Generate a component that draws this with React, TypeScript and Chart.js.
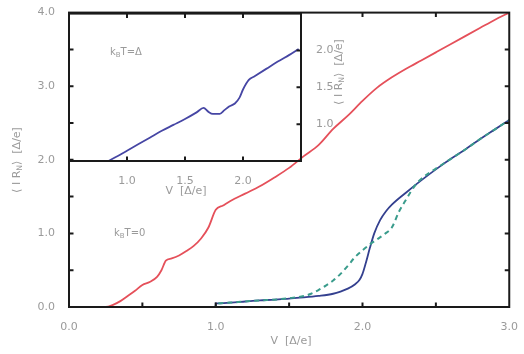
import React, { useEffect, useRef } from 'react';
import { Chart, registerables } from 'chart.js';
Chart.register(...registerables);

// ---------- data ----------
const redV = [0, 0.2, 0.25, 0.3, 0.35, 0.4, 0.45, 0.5, 0.55, 0.6, 0.63, 0.66, 0.7, 0.75, 0.8, 0.85, 0.9, 0.95, 1.0, 1.05, 1.1, 1.2, 1.3, 1.4, 1.5, 1.6, 1.7, 1.8, 1.9, 2.0, 2.1, 2.2, 2.3, 2.4, 2.5, 2.6, 2.7, 2.8, 2.9, 3.0];
const redI = [0, 0, 0, 0.03, 0.08, 0.15, 0.22, 0.3, 0.34, 0.41, 0.5, 0.63, 0.66, 0.7, 0.76, 0.83, 0.93, 1.08, 1.32, 1.38, 1.44, 1.54, 1.64, 1.76, 1.89, 2.05, 2.2, 2.42, 2.6, 2.8, 2.98, 3.12, 3.24, 3.35, 3.46, 3.57, 3.68, 3.79, 3.9, 4.0];

const blueV = [1.0, 1.0, 1.1, 1.2, 1.3, 1.4, 1.5, 1.6, 1.7, 1.8, 1.85, 1.9, 1.95, 1.98, 2.0, 2.02, 2.05, 2.08, 2.12, 2.16, 2.2, 2.3, 2.4, 2.5, 2.6, 2.7, 2.8, 2.9, 3.0];
const blueI = [0, 0.05, 0.06, 0.075, 0.09, 0.1, 0.115, 0.13, 0.15, 0.18, 0.21, 0.25, 0.31, 0.37, 0.45, 0.58, 0.8, 1.0, 1.18, 1.3, 1.39, 1.56, 1.72, 1.87, 2.01, 2.14, 2.28, 2.41, 2.54];

const dashV = [0, 1.0, 1.0, 1.1, 1.2, 1.3, 1.4, 1.5, 1.6, 1.65, 1.7, 1.75, 1.8, 1.85, 1.9, 1.95, 2.0, 2.05, 2.1, 2.15, 2.2, 2.25, 2.3, 2.35, 2.4, 2.5, 2.6, 2.7, 2.8, 2.9, 3.0];
const dashI = [0, 0, 0.05, 0.06, 0.075, 0.09, 0.1, 0.12, 0.15, 0.18, 0.23, 0.29, 0.36, 0.45, 0.56, 0.68, 0.77, 0.85, 0.92, 0.99, 1.08, 1.3, 1.47, 1.63, 1.74, 1.88, 2.01, 2.14, 2.28, 2.41, 2.54];

const insetV = [0.84, 0.9, 1.0, 1.1, 1.2, 1.3, 1.4, 1.5, 1.6, 1.66, 1.7, 1.74, 1.8, 1.84, 1.88, 1.93, 1.97, 2.0, 2.05, 2.1, 2.2, 2.3, 2.4, 2.48];
const insetI = [0.5, 0.55, 0.64, 0.73, 0.82, 0.91, 0.99, 1.07, 1.16, 1.22, 1.17, 1.14, 1.14, 1.19, 1.24, 1.28, 1.36, 1.47, 1.6, 1.65, 1.75, 1.85, 1.94, 2.02];

const mainXLabels = [0, 1, 2, 3];
const mainYLabels = [0, 1, 2, 3, 4];
const insetXLabels = [1.0, 1.5, 2.0];
const insetYLabels = [1.0, 1.5, 2.0];

// ---------- styling ----------
const FONT = '"DejaVu Sans", "Liberation Sans", sans-serif';
const GRAY = '#9a9a9a';
const AXIS = '#1a1a1a';

type Part = { t: string; sub?: boolean };

function drawRich(ctx: CanvasRenderingContext2D, parts: Part[], x: number, y: number, rot: number, size: number, align: 'left' | 'center') {
  ctx.save();
  ctx.translate(x, y);
  ctx.rotate(rot);
  ctx.fillStyle = GRAY;
  ctx.textBaseline = 'middle';
  ctx.textAlign = 'left';
  let total = 0;
  const widths = parts.map((p) => {
    ctx.font = `${p.sub ? size * 0.7 : size}px ${FONT}`;
    const w = ctx.measureText(p.t).width;
    total += w;
    return w;
  });
  let cx = align === 'center' ? -total / 2 : 0;
  parts.forEach((p, i) => {
    ctx.font = `${p.sub ? size * 0.7 : size}px ${FONT}`;
    ctx.fillText(p.t, cx, p.sub ? size * 0.3 : 0);
    cx += widths[i];
  });
  ctx.restore();
}

const yTitle: Part[] = [{ t: '⟨ I R' }, { t: 'N', sub: true }, { t: '⟩  [Δ/e]' }];
const xTitle: Part[] = [{ t: 'V  [Δ/e]' }];

function pts(xs: number[], ys: number[]) {
  return xs.map((x, i) => ({ x, y: ys[i] }));
}

type TickSpec = { bottom?: (v: number) => boolean; top?: (v: number) => boolean; left?: (v: number) => boolean; right?: (v: number) => boolean };

function framePlugin(spec: TickSpec, texts: (ctx: CanvasRenderingContext2D) => void, yId: string) {
  return {
    id: 'frame',
    afterDatasetsDraw(chart: any) {
      const ctx: CanvasRenderingContext2D = chart.ctx;
      const a = chart.chartArea;
      const xs = chart.scales.x;
      const ys = chart.scales[yId];
      const L = 4.5;
      ctx.save();
      ctx.strokeStyle = AXIS;
      ctx.lineWidth = 2;
      ctx.beginPath();
      xs.ticks.forEach((t: any) => {
        const v = t.value;
        if (v <= xs.min || v >= xs.max) return;
        const px = xs.getPixelForValue(v);
        if (spec.bottom && spec.bottom(v)) { ctx.moveTo(px, a.bottom); ctx.lineTo(px, a.bottom - L); }
        if (spec.top && spec.top(v)) { ctx.moveTo(px, a.top); ctx.lineTo(px, a.top + L); }
      });
      ys.ticks.forEach((t: any) => {
        const v = t.value;
        if (v <= ys.min || v >= ys.max) return;
        const py = ys.getPixelForValue(v);
        if (spec.left && spec.left(v)) { ctx.moveTo(a.left, py); ctx.lineTo(a.left + L, py); }
        if (spec.right && spec.right(v)) { ctx.moveTo(a.right, py); ctx.lineTo(a.right - L, py); }
      });
      ctx.stroke();
      ctx.strokeRect(a.left, a.top, a.right - a.left, a.bottom - a.top);
      ctx.restore();
      texts(ctx);
    },
  };
}

export default function App() {
  const mainRef = useRef<HTMLCanvasElement>(null);
  const insetRef = useRef<HTMLCanvasElement>(null);

  useEffect(() => {
    const tickFont = { family: FONT, size: 11 };
    const main = new Chart(mainRef.current!, {
      type: 'scatter',
      data: {
        datasets: [
          {
            data: pts(redV, redI), showLine: true, borderColor: '#e5505a', borderWidth: 1.8,
            pointRadius: 0, cubicInterpolationMode: 'monotone',
          },
          {
            data: pts(dashV, dashI), showLine: true, borderColor: '#3a9c8c', borderWidth: 2,
            borderDash: [5, 4], pointRadius: 0, cubicInterpolationMode: 'monotone',
          },
          {
            data: pts(blueV, blueI), showLine: true, borderColor: '#34408f', borderWidth: 1.8,
            pointRadius: 0, cubicInterpolationMode: 'monotone',
          },
        ],
      },
      options: {
        animation: false,
        responsive: false,
        layout: { padding: { left: 0, top: 12, right: 11, bottom: 0 } },
        plugins: { legend: { display: false }, tooltip: { enabled: false } },
        scales: {
          x: {
            type: 'linear', min: 0, max: 3,
            grid: { display: false }, border: { display: false },
            afterFit: (s: any) => { s.height = 47; },
            ticks: {
              stepSize: 0.5, autoSkip: false, maxRotation: 0, padding: 6, color: GRAY, font: tickFont,
              callback: (v: any) => (mainXLabels.includes(Number(v)) ? Number(v).toFixed(1) : ''),
            },
          },
          y: {
            type: 'linear', min: 0, max: 4,
            grid: { display: false }, border: { display: false },
            afterFit: (s: any) => { s.width = 69; },
            ticks: {
              stepSize: 0.5, autoSkip: false, padding: 6, color: GRAY, font: tickFont,
              callback: (v: any) => (mainYLabels.includes(Number(v)) ? Number(v).toFixed(1) : ''),
            },
          },
        },
      },
      plugins: [
        framePlugin(
          { bottom: () => true, top: (v) => v >= 2, left: () => true, right: () => true },
          (ctx) => {
            drawRich(ctx, yTitle, 17, 160, -Math.PI / 2, 11, 'center');
            drawRich(ctx, xTitle, 291, 341, 0, 11, 'center');
            drawRich(ctx, [{ t: 'k' }, { t: 'B', sub: true }, { t: 'T=0' }], 114, 233, 0, 10, 'left');
          },
          'y'
        ) as any,
      ],
    });

    const inset = new Chart(insetRef.current!, {
      type: 'scatter',
      data: {
        datasets: [
          {
            data: pts(insetV, insetI), showLine: true, borderColor: '#4646a4', borderWidth: 1.8,
            pointRadius: 0, cubicInterpolationMode: 'monotone', yAxisID: 'y2',
          },
        ],
      },
      options: {
        animation: false,
        responsive: false,
        layout: { padding: { left: 69, top: 12, right: 0, bottom: 0 } },
        plugins: { legend: { display: false }, tooltip: { enabled: false } },
        scales: {
          x: {
            type: 'linear', min: 0.5, max: 2.5,
            grid: { display: false }, border: { display: false },
            afterFit: (s: any) => { s.height = 49; },
            ticks: {
              stepSize: 0.5, autoSkip: false, maxRotation: 0, padding: 6, color: GRAY, font: tickFont,
              callback: (v: any) => (insetXLabels.includes(Number(v)) ? Number(v).toFixed(1) : ''),
            },
          },
          y2: {
            type: 'linear', position: 'right', min: 0.5, max: 2.5,
            grid: { display: false }, border: { display: false },
            afterFit: (s: any) => { s.width = 59; },
            ticks: {
              stepSize: 0.5, autoSkip: false, padding: 7, color: GRAY, font: tickFont,
              callback: (v: any) => (insetYLabels.includes(Number(v)) ? Number(v).toFixed(1) : ''),
            },
          },
        },
      },
      plugins: [
        framePlugin(
          { bottom: () => true, top: () => true, right: () => true },
          (ctx) => {
            drawRich(ctx, yTitle, 339, 72, -Math.PI / 2, 11, 'center');
            drawRich(ctx, xTitle, 186, 191, 0, 11, 'center');
            drawRich(ctx, [{ t: 'k' }, { t: 'B', sub: true }, { t: 'T=Δ' }], 110, 52, 0, 10, 'left');
          },
          'y2'
        ) as any,
      ],
    });

    return () => {
      main.destroy();
      inset.destroy();
    };
  }, []);

  return (
    <div style={{ position: 'fixed', left: 0, top: 0, width: 524, height: 354, background: '#fff' }}>
      <canvas ref={mainRef} width={524} height={354} style={{ position: 'absolute', left: 0, top: 0, width: 524, height: 354 }} />
      <canvas ref={insetRef} width={360} height={210} style={{ position: 'absolute', left: 0, top: 0, width: 360, height: 210, pointerEvents: 'none' }} />
    </div>
  );
}
